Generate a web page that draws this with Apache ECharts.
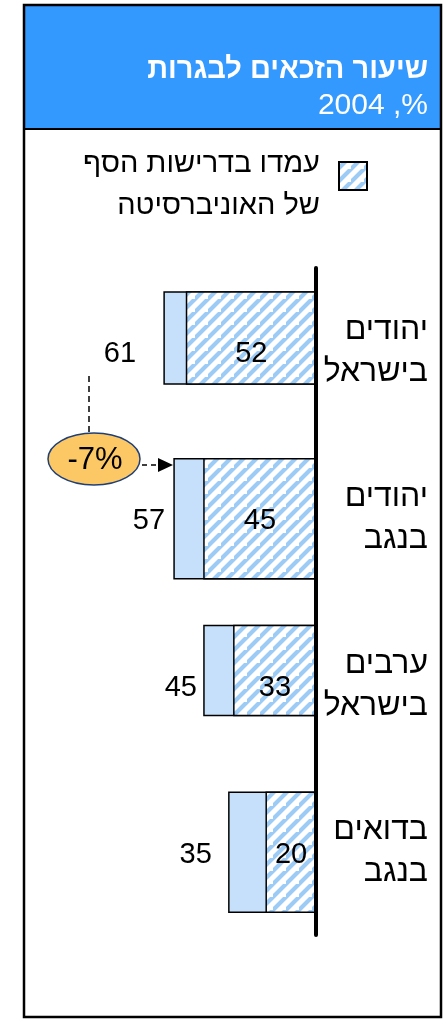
<!DOCTYPE html>
<html>
<head>
<meta charset="utf-8">
<title>שיעור הזכאים לבגרות</title>
<script src="https://cdn.jsdelivr.net/npm/echarts@6/dist/echarts.min.js"></script>
<style>
html, body { margin: 0; padding: 0; background: #fff; overflow: hidden; }
#main { width: 443px; height: 1019px; }
</style>
</head>
<body>
<div id="main"></div>
<script>
// נתונים
var groups = ['יהודים\nבישראל', 'יהודים\nבנגב', 'ערבים\nבישראל', 'בדואים\nבנגב'];
var zakaim = [61, 57, 45, 35];        // זכאים לבגרות, %
var university = [52, 45, 33, 20];    // עמדו בדרישות הסף של האוניברסיטה
var changeText = '-7%';

// עיצוב
var barThick = [92, 120, 90, 120];
var totalGap = [28, 9, 7, 17];
var FONT = '"Liberation Sans", Arial, sans-serif';

// דוגמת פסים אלכסוניים
function makeHatch() {
  var s = 13;
  var c = document.createElement('canvas');
  c.width = s; c.height = s;
  var ctx = c.getContext('2d');
  ctx.fillStyle = '#ffffff';
  ctx.fillRect(0, 0, s, s);
  ctx.strokeStyle = '#9ccbf6';
  ctx.lineWidth = 4.2;
  ctx.beginPath();
  ctx.moveTo(-2, s + 2); ctx.lineTo(s + 2, -2);
  ctx.moveTo(-s - 2, s + 2); ctx.lineTo(2, -2);
  ctx.moveTo(s - 2, 2 * s + 2); ctx.lineTo(2 * s + 2, s - 2);
  ctx.stroke();
  return { image: c, repeat: 'repeat' };
}
var hatch = makeHatch();

var myChart = echarts.init(document.getElementById('main'));

var seriesData = groups.map(function (g, i) { return [i, zakaim[i], university[i]]; });

function renderItem(params, api) {
  var i = params.dataIndex;
  var cat = api.value(0);
  var total = api.value(1);
  var part = api.value(2);
  var base = api.coord([0, cat]);
  var band = api.size([0, 1])[1];
  var top = base[1] - band / 2 + 24;
  var h = barThick[i];
  var xt = api.coord([total, cat])[0];
  var xp = api.coord([part, cat])[0];
  return {
    type: 'group',
    children: [
      { type: 'rect', shape: { x: xt, y: top, width: base[0] - xt, height: h },
        style: { fill: '#c6e0fb', stroke: '#000', lineWidth: 1.5 } },
      { type: 'rect', shape: { x: xp, y: top, width: base[0] - xp, height: h },
        style: { fill: hatch, stroke: '#000', lineWidth: 1.5 } },
      { type: 'text', style: { text: String(total), x: xt - totalGap[i], y: base[1] + 3,
        align: 'right', verticalAlign: 'middle', fontSize: 29, fontFamily: FONT, fill: '#000' } },
      { type: 'text', style: { text: String(part), x: (xp + base[0]) / 2, y: base[1] + 3,
        align: 'center', verticalAlign: 'middle', fontSize: 29, fontFamily: FONT, fill: '#000' } }
    ]
  };
}

var option = {
  animation: false,
  textStyle: { fontFamily: FONT },
  grid: { left: 67, right: 127, top: 268, bottom: 84 },
  xAxis: { type: 'value', min: 0, max: 100, inverse: true, show: false },
  yAxis: {
    type: 'category',
    data: groups,
    inverse: true,
    position: 'right',
    z: 5,
    axisLine: { onZero: false, lineStyle: { color: '#000', width: 4, cap: 'round' } },
    axisTick: { show: false },
    splitLine: { show: false },
    axisLabel: { margin: 112, align: 'right', fontSize: 32, lineHeight: 42, color: '#000', fontFamily: FONT }
  },
  series: [{
    type: 'custom',
    renderItem: renderItem,
    encode: { x: 1, y: 0 },
    data: seriesData
  }],
  graphic: [
    { type: 'rect', z: -1, shape: { x: 24, y: 5, width: 417, height: 124 }, style: { fill: '#3399ff' } },
    { type: 'line', shape: { x1: 24, y1: 129, x2: 441, y2: 129 }, style: { stroke: '#000', lineWidth: 2 } },
    { type: 'rect', shape: { x: 24, y: 5, width: 417, height: 1012 }, style: { fill: 'none', stroke: '#000', lineWidth: 2.5 } },
    // כותרת
    { type: 'text', style: { text: 'שיעור הזכאים לבגרות', x: 428, y: 70, align: 'right', verticalAlign: 'middle',
        fontSize: 29, fontWeight: 'bold', fontFamily: FONT, fill: '#fff' } },
    { type: 'text', style: { text: '\u202B%, 2004\u202C', x: 428, y: 106, align: 'right', verticalAlign: 'middle',
        fontSize: 30, fontFamily: FONT, fill: '#fff' } },
    // מקרא
    { type: 'rect', shape: { x: 339, y: 162, width: 28, height: 28 }, style: { fill: hatch, stroke: '#000', lineWidth: 2 } },
    { type: 'text', style: { text: 'עמדו בדרישות הסף\nשל האוניברסיטה', x: 320, y: 185, align: 'right', verticalAlign: 'middle',
        fontSize: 29, lineHeight: 42, fontFamily: FONT, fill: '#000' } },
    // שינוי
    { type: 'line', shape: { x1: 89, y1: 376, x2: 89, y2: 433 }, style: { stroke: '#000', lineWidth: 1.5, lineDash: [6, 4] } },
    { type: 'ellipse', shape: { cx: 94, cy: 459, rx: 46, ry: 26 }, style: { fill: '#fcc865', stroke: '#1f3f77', lineWidth: 1.5 } },
    { type: 'text', style: { text: changeText, x: 95, y: 460, align: 'center', verticalAlign: 'middle', fontSize: 31, fontFamily: FONT, fill: '#000' } },
    { type: 'line', shape: { x1: 142, y1: 465, x2: 160, y2: 465 }, style: { stroke: '#000', lineWidth: 1.5, lineDash: [5, 4] } },
    { type: 'polygon', shape: { points: [[158, 458], [173, 465], [158, 472]] }, style: { fill: '#000' } }
  ]
};

myChart.setOption(option);
</script>
</body>
</html>
